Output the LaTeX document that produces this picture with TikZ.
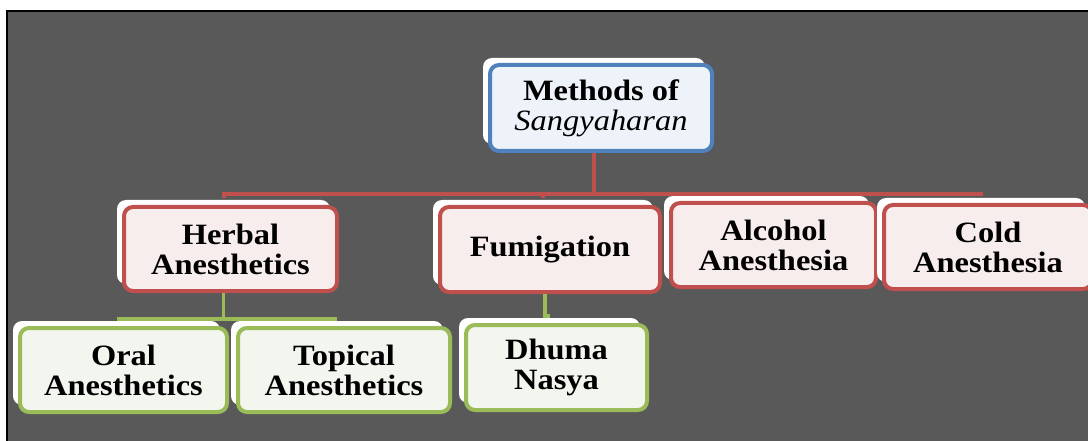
\documentclass[tikz,border=0pt]{standalone}
\usepackage{fontspec}
\setmainfont{Liberation Serif}[FakeStretch=1.1]
\usetikzlibrary{shadows}
\definecolor{slide}{HTML}{595959}
\definecolor{bluedge}{HTML}{4F81BD}
\definecolor{bluefill}{HTML}{EEF3FA}
\definecolor{redge}{HTML}{C0504D}
\definecolor{redfill}{HTML}{F8EDED}
\definecolor{greenedge}{HTML}{9BBB59}
\definecolor{greenfill}{HTML}{F3F6EE}

\begin{document}
\begin{tikzpicture}[x=1pt,y=-1pt,
  box/.style={rounded corners=9pt,line width=4pt,align=center,inner sep=0pt,
    font=\fontsize{29.5}{30}\selectfont\bfseries,
    general shadow={fill=white,shadow xshift=-7pt,shadow yshift=7pt}},
  topbox/.style={box,draw=bluedge,fill=bluefill},
  midbox/.style={box,draw=redge,fill=redfill},
  lowbox/.style={box,draw=greenedge,fill=greenfill},
  redline/.style={draw=redge,line width=4pt},
  greenline/.style={draw=greenedge,line width=3.5pt}]
\useasboundingbox (0,0) rectangle (1088,441);
\fill[slide] (7,11) rectangle (1088,441);
\draw[line width=2pt] (7,441) -- (7,11) -- (1088,11);

\node[topbox,minimum width=222pt,minimum height=86pt] (root) at (601,108) {Methods of\\{\mdseries\itshape Sangyaharan}};
\node[midbox,minimum width=213pt,minimum height=84pt] (herbal) at (230.5,249) {Herbal\\Anesthetics};
\node[midbox,minimum width=220pt,minimum height=85pt] (fumig) at (550,249.5) {Fumigation};
\node[midbox,minimum width=205pt,minimum height=84pt] (alcohol) at (773.5,245) {Alcohol\\Anesthesia};
\node[midbox,minimum width=208pt,minimum height=84pt] (cold) at (988,247) {Cold\\Anesthesia};
\node[lowbox,minimum width=207pt,minimum height=84pt] (oral) at (123.5,370) {Oral\\Anesthetics};
\node[lowbox,minimum width=212pt,minimum height=84pt] (topical) at (344,370) {Topical\\Anesthetics};
\node[lowbox,minimum width=181pt,minimum height=85pt] (dhuma) at (556.5,367.5) {Dhuma\\Nasya};

\draw[redline] ([xshift=-7pt]root.south) -- ++(0,41) coordinate (bus);
\draw[redline] (bus) -| ([shift={(-7pt,7pt)}]herbal.north);
\draw[redline] (bus) -| ([shift={(-7pt,7pt)}]fumig.north);
\draw[redline] (bus) -| ([shift={(-7pt,7pt)}]alcohol.north);
\draw[redline] (bus) -| ([shift={(-7pt,7pt)}]cold.north);

\draw[greenline] ([xshift=-7pt]herbal.south) -- ++(0,26) coordinate (gbus);
\draw[greenline] (gbus) -| ([shift={(-7pt,7pt)}]oral.north);
\draw[greenline] (gbus) -| ([shift={(-7pt,7pt)}]topical.north);
\draw[greenline] ([xshift=-5pt]fumig.south) -- ++(0,22) -| ([shift={(-7pt,7pt)}]dhuma.north);
\end{tikzpicture}
\end{document}
